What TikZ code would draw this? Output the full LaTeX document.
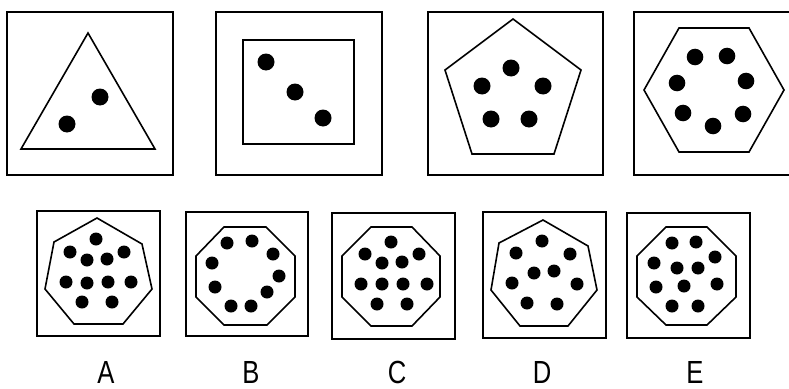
\documentclass[tikz,border=0pt]{standalone}
\usepackage{fontspec}
\setmainfont{Liberation Sans}
\newcommand{\narrowlab}[1]{\scalebox{0.8}[1]{#1}}
\begin{document}
\begin{tikzpicture}[x=1pt,y=-1pt,
  frame/.style={draw=black, line width=1.6pt},
  poly/.style={draw=black, line width=1.6pt, line join=miter},
  bigdot/.style={fill=black},
  lab/.style={font=\fontsize{32}{32}\selectfont, inner sep=0pt}]
\useasboundingbox (0,0) rectangle (789,388);
\clip (0,0) rectangle (789,388);
% ---------- top row ----------
% panel 1: triangle
\draw[frame] (7,12) rectangle (173,175);
\draw[poly] (88,33) -- (155,149) -- (21,149) -- cycle;
\fill[bigdot] (100,97) circle (8.5pt);
\fill[bigdot] (67,124) circle (8.5pt);
% panel 2: square
\draw[frame] (216,12) rectangle (382,175);
\draw[poly] (243,40) rectangle (354,144);
\fill[bigdot] (266,62) circle (8.5pt);
\fill[bigdot] (295,92) circle (8.5pt);
\fill[bigdot] (323,118) circle (8.5pt);
% panel 3: pentagon
\draw[frame] (428,12) rectangle (603,175);
\draw[poly] (513,19) -- (581,70) -- (554,154) -- (472,154) -- (445,70) -- cycle;
\fill[bigdot] (511,68) circle (8.5pt);
\fill[bigdot] (482,86) circle (8.5pt);
\fill[bigdot] (543,86) circle (8.5pt);
\fill[bigdot] (491,119) circle (8.5pt);
\fill[bigdot] (529,119) circle (8.5pt);
% panel 4: hexagon
\draw[frame] (634,12) rectangle (794,175);
\draw[poly] (644,90) -- (679,28) -- (749,28) -- (784,90) -- (749,152) -- (679,152) -- cycle;
\fill[bigdot] (695,57) circle (8.3pt);
\fill[bigdot] (727,56) circle (8.3pt);
\fill[bigdot] (677,83) circle (8.3pt);
\fill[bigdot] (746,81) circle (8.3pt);
\fill[bigdot] (683,113) circle (8.3pt);
\fill[bigdot] (743,114) circle (8.3pt);
\fill[bigdot] (713,126) circle (8.3pt);
% ---------- bottom row ----------
% A: heptagon, 11 dots
\draw[frame] (37,211) rectangle (160,336);
\draw[poly] (97,218) -- (142,244) -- (152,289) -- (123,324) -- (74,324) -- (45,289) -- (54,242) -- cycle;
\foreach \p in {(96,239),(70,252),(124,252),(87,260),(107,259),(66,282),(87,283),(108,282),(131,282),(82,302),(112,302)}
  \fill[bigdot] \p circle (6.5pt);
% B: octagon, 9 dots
\draw[frame] (186,212) rectangle (308,336);
\draw[poly] (224,227) -- (266,227) -- (295,256) -- (295,297) -- (267,325) -- (224,325) -- (196,297) -- (196,256) -- cycle;
\foreach \p in {(227,243),(252,241),(273,254),(279,276),(267,292),(251,306),(231,306),(215,287),(212,263)}
  \fill[bigdot] \p circle (6.5pt);
% C: octagon, 11 dots
\draw[frame] (332,213) rectangle (455,339);
\draw[poly] (371,227) -- (412,227) -- (440,256) -- (440,297) -- (412,326) -- (371,326) -- (342,297) -- (342,256) -- cycle;
\foreach \p in {(391,242),(365,254),(419,254),(382,263),(402,262),(361,284),(382,284),(403,284),(427,284),(377,304),(407,304)}
  \fill[bigdot] \p circle (6.5pt);
% D: heptagon, 9 dots
\draw[frame] (483,212) rectangle (606,338);
\draw[poly] (543,220) -- (588,246) -- (597,290) -- (568,326) -- (520,326) -- (491,290) -- (499,243) -- cycle;
\foreach \p in {(542,241),(516,253),(570,254),(534,273),(554,271),(512,283),(577,284),(527,303),(557,304)}
  \fill[bigdot] \p circle (6.5pt);
% E: octagon, 11 dots
\draw[frame] (627,213) rectangle (750,338);
\draw[poly] (666,227) -- (707,227) -- (736,256) -- (736,297) -- (707,325) -- (666,325) -- (637,297) -- (637,256) -- cycle;
\foreach \p in {(672,243),(696,242),(715,257),(654,263),(677,268),(698,268),(656,287),(684,286),(717,284),(672,306),(698,306)}
  \fill[bigdot] \p circle (6.5pt);
% ---------- labels ----------
\node[lab] (lA) at (106,372) {\narrowlab{A}};
\node[lab] (lB) at (251,372) {\narrowlab{B}};
\node[lab] (lC) at (397,372) {\narrowlab{C}};
\node[lab] (lD) at (542,372) {\narrowlab{D}};
\node[lab] (lE) at (695,372) {\narrowlab{E}};
\end{tikzpicture}
\end{document}
